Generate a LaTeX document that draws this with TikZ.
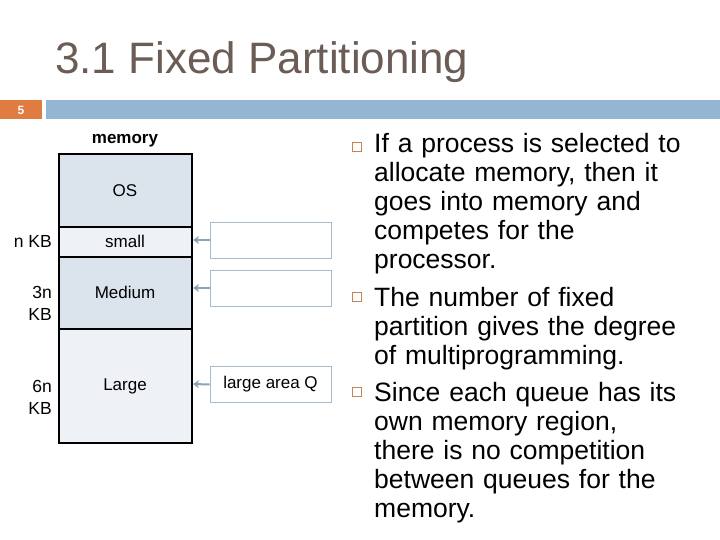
\documentclass[tikz,border=0pt]{standalone}
\usepackage{fontspec}
\setmainfont{Liberation Sans}
\usetikzlibrary{arrows.meta}
\definecolor{titlecol}{RGB}{108,92,86}
\definecolor{orangebar}{RGB}{224,124,64}
\definecolor{bluebar}{RGB}{148,182,210}
\definecolor{darkpart}{RGB}{219,227,237}
\definecolor{lightpart}{RGB}{238,241,246}
\definecolor{qborder}{RGB}{168,185,200}
\definecolor{qarrow}{RGB}{140,164,184}
\definecolor{bulletcol}{RGB}{196,132,88}
\tikzset{
  part/.style={draw=black, line width=1.3pt},
  lbl/.style={font=\fontsize{17bp}{22bp}\selectfont, inner sep=0pt},
  sidelbl/.style={font=\fontsize{17.5bp}{22bp}\selectfont, inner sep=0pt, align=right, anchor=east},
  qbox/.style={draw=qborder, line width=0.8pt, minimum width=121bp, minimum height=36bp, inner sep=0pt, font=\fontsize{17bp}{22bp}\selectfont},
  qarr/.style={draw=qarrow, line width=2pt, -{Stealth[length=6bp,width=8bp]}},
  bul/.style={draw=bulletcol, line width=1.4pt, minimum size=9.5bp, inner sep=0pt},
  btext/.style={font=\fontsize{26.5bp}{29bp}\selectfont, inner sep=0pt, anchor=base west, align=left, text width=345bp}
}
\begin{document}
\begin{tikzpicture}[x=1bp, y=-1bp]
\useasboundingbox (0,0) rectangle (720,540);
% title
\node[anchor=base west, inner sep=0pt, text=titlecol, font=\fontsize{44bp}{50bp}\selectfont] (title) at (55,74) {3.1 Fixed Partitioning};
% header bars
\fill[orangebar] (0,100) rectangle (42,119);
\fill[bluebar] (46,100) rectangle (720,119);
\node[text=white, font=\fontsize{12bp}{14bp}\selectfont\bfseries, inner sep=0pt] (pagenum) at (21,110) {5};
% memory
\node[font=\fontsize{17bp}{22bp}\selectfont\bfseries, inner sep=0pt] (memlbl) at (125,141) {memory};
\draw[part, fill=darkpart] (59,154) rectangle (192,227);
\draw[part, fill=lightpart] (59,227) rectangle (192,257);
\draw[part, fill=darkpart] (59,257) rectangle (192,329);
\draw[part, fill=lightpart] (59,329) rectangle (192,443);
\node[lbl] (os) at (125,191) {OS};
\node[lbl] (small) at (125,241) {small};
\node[lbl] (medium) at (125,292) {Medium};
\node[lbl] (large) at (125,386) {Large};
\coordinate (smallin) at (193,240);
\coordinate (medin) at (193,288);
\coordinate (largein) at (193,384);
% side labels
\node[sidelbl] (nkb) at (52,241) {n KB};
\node[sidelbl] (kb3) at (52,303) {3n\\KB};
\node[sidelbl] (kb6) at (52,397) {6n\\KB};
% queues
\node[qbox] (q1) at (270.5,240) {};
\node[qbox] (q2) at (270.5,288) {};
\node[qbox] (q3) at (270.5,384.5) {large area Q};
\draw[qarr] (q1.west) -- (smallin);
\draw[qarr] (q2.west) -- (medin);
\draw[qarr] (q3.west) -- (largein);
% bullets
\node[bul] (b1) at (357,147) {};
\node[bul] (b2) at (357,297) {};
\node[bul] (b3) at (357,392) {};
\node[btext] (t1) at (374,153) {If a process is selected to\\allocate memory, then it\\goes into memory and\\competes for the\\processor.};
\node[btext] (t2) at (374,306) {The number of fixed\\partition gives the degree\\of multiprogramming.};
\node[btext] (t3) at (374,401) {Since each queue has its\\own memory region,\\there is no competition\\between queues for the\\memory.};
\end{tikzpicture}
\end{document}
